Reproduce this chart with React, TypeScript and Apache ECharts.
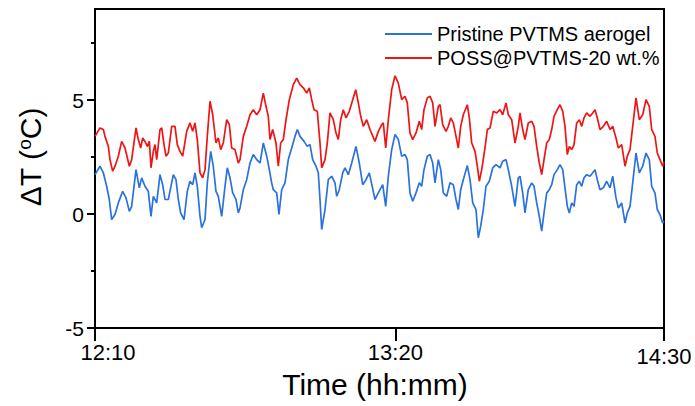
import React, { useEffect, useRef } from "react";
import * as echarts from "echarts";

// Time in minutes after 12:10
const redTime = [0, 1.23, 2.05, 2.46, 3.28, 3.69, 4.35, 4.92, 5.74, 6.56, 7.38, 8.45, 9.02, 10.09, 10.66, 11.24, 11.73, 12.3, 12.88, 13.37, 13.78, 14.35, 14.76, 15.18, 15.99, 16.41, 16.98, 17.47, 18.04, 18.87, 19.68, 20.25, 20.91, 21.58, 22.56, 23.37, 24.04, 24.6, 25.17, 25.84, 26.5, 27.07, 27.63, 28.3, 28.96, 29.77, 30.34, 30.93, 31.57, 32.4, 33.05, 33.63, 34.45, 35.26, 35.68, 36.49, 37.33, 38.14, 38.95, 39.79, 40.6, 41.41, 42.07, 42.64, 43.06, 43.72, 44.53, 45.1, 45.69, 46.33, 47.0, 47.81, 48.79, 49.63, 50.44, 51.25, 52.09, 52.73, 53.32, 53.89, 54.7, 55.36, 55.78, 56.59, 57.16, 57.82, 58.64, 59.3, 59.86, 60.45, 61.09, 61.76, 62.57, 63.41, 64.15, 64.79, 65.38, 66.02, 66.85, 67.66, 68.89, 69.71, 70.54, 70.94, 71.53, 72.17, 73.0, 73.82, 74.63, 75.46, 76.28, 76.84, 77.5, 78.17, 78.98, 79.8, 80.38, 80.95, 81.76, 82.43, 83.09, 83.66, 84.47, 84.89, 85.55, 86.36, 86.93, 87.52, 88.16, 88.83, 89.39, 89.98, 90.62, 91.61, 92.1, 92.69, 93.5, 94.07, 94.56, 95.15, 95.96, 96.53, 97.19, 98.0, 98.84, 99.65, 100.31, 101.13, 101.69, 102.53, 103.34, 104.15, 104.57, 105.23, 105.8, 106.61, 107.45, 108.02, 108.68, 109.32, 109.91, 110.48, 111.14, 111.78, 112.37, 112.94, 113.75, 114.41, 115.08, 115.64, 116.21, 116.7, 117.29, 117.86, 118.52, 119.16, 119.75, 120.32, 120.98, 121.8, 122.46, 123.03, 123.59, 124.26, 125.07, 125.9, 126.72, 127.38, 128.19, 128.76, 129.59, 130.41, 130.97, 131.64, 132.3, 133.11, 133.92, 134.76, 135.57, 136.38, 136.97, 137.78, 138.35, 139.01, 139.68, 140];
const redDT = [3.41, 3.78, 3.71, 3.41, 2.97, 2.39, 1.88, 2.1, 2.54, 3.19, 2.9, 2.1, 2.39, 3.78, 3.27, 2.9, 3.34, 3.19, 2.97, 3.19, 2.03, 2.75, 3.05, 2.39, 3.71, 3.78, 3.05, 2.54, 2.68, 3.85, 3.85, 3.05, 2.75, 2.54, 3.63, 4.0, 3.63, 4.0, 3.27, 1.81, 1.59, 1.95, 3.41, 4.95, 4.36, 3.12, 3.34, 2.83, 3.12, 4.14, 3.93, 2.9, 2.83, 2.24, 2.39, 3.41, 3.85, 4.36, 4.58, 4.36, 4.58, 5.31, 4.73, 4.29, 3.27, 3.71, 3.12, 2.1, 3.12, 3.27, 4.14, 5.02, 5.68, 5.97, 5.68, 5.54, 5.31, 5.54, 5.02, 4.58, 4.51, 3.12, 2.03, 2.39, 3.12, 4.44, 4.14, 3.56, 3.27, 4.14, 4.58, 4.22, 4.51, 5.02, 5.46, 4.88, 4.29, 3.85, 4.14, 3.71, 3.19, 3.63, 3.93, 4.0, 2.9, 4.14, 5.46, 6.07, 5.75, 5.02, 5.17, 4.88, 3.56, 3.27, 3.56, 4.07, 3.71, 4.58, 5.1, 5.17, 4.88, 3.85, 4.73, 4.8, 3.93, 3.63, 3.85, 4.22, 4.0, 3.41, 2.9, 3.85, 4.36, 4.8, 4.22, 3.12, 2.75, 2.1, 1.44, 1.95, 2.9, 3.71, 3.78, 4.51, 4.44, 4.58, 4.36, 4.88, 4.36, 4.14, 3.12, 3.85, 4.44, 3.71, 3.27, 4.0, 4.07, 3.85, 2.97, 2.24, 1.73, 2.39, 3.12, 3.27, 3.71, 4.29, 4.58, 4.8, 4.51, 3.85, 2.61, 2.97, 2.83, 3.05, 4.0, 4.14, 3.85, 4.22, 4.44, 4.29, 4.44, 4.58, 4.22, 3.71, 3.85, 4.07, 3.71, 3.85, 3.34, 2.9, 3.05, 2.1, 2.54, 2.83, 3.85, 5.1, 4.14, 4.36, 5.02, 4.73, 3.71, 3.41, 2.68, 2.39, 2.1, 2.3];

const blueTime = [0, 1.23, 2.05, 2.87, 3.52, 4.1, 4.92, 5.74, 6.81, 7.63, 8.45, 9.02, 10.09, 10.9, 11.48, 12.3, 13.12, 13.78, 14.35, 15.18, 15.99, 16.65, 17.22, 18.04, 19.27, 19.93, 20.5, 21.08, 21.9, 22.71, 23.37, 24.04, 24.6, 25.17, 25.84, 26.25, 27.07, 27.63, 28.47, 29.1, 29.77, 30.34, 31.17, 31.99, 32.55, 33.22, 33.88, 34.69, 35.26, 35.68, 36.49, 37.33, 38.14, 38.95, 39.79, 40.6, 41.41, 42.25, 42.89, 43.47, 43.87, 44.71, 45.27, 45.94, 46.75, 47.56, 48.4, 49.21, 49.78, 50.44, 51.43, 52.24, 52.9, 53.56, 54.38, 54.94, 55.36, 55.78, 56.59, 57.4, 58.24, 59.05, 59.47, 60.11, 60.95, 61.51, 62.33, 63.16, 64.22, 65.03, 65.87, 66.68, 67.49, 68.89, 69.71, 70.79, 71.53, 72.17, 73.0, 73.82, 74.63, 75.46, 76.28, 76.84, 77.5, 78.17, 78.98, 79.8, 80.38, 80.95, 81.76, 82.43, 83.09, 83.66, 84.47, 85.06, 85.7, 86.53, 87.35, 88.16, 88.83, 89.39, 89.98, 90.62, 91.61, 92.27, 92.94, 93.74, 94.31, 94.9, 95.54, 96.2, 97.02, 97.86, 98.67, 99.65, 100.31, 101.13, 101.69, 102.53, 103.34, 104.15, 104.57, 105.23, 105.8, 106.61, 107.45, 108.02, 108.68, 109.32, 109.91, 110.48, 111.14, 111.78, 112.37, 112.94, 113.75, 114.41, 115.08, 115.64, 116.21, 116.7, 117.29, 117.86, 118.52, 119.16, 119.75, 120.32, 120.98, 121.8, 122.46, 123.03, 123.59, 124.26, 125.07, 125.9, 126.72, 127.38, 128.19, 128.76, 129.59, 130.41, 130.97, 131.64, 132.3, 133.11, 133.92, 134.76, 135.57, 136.38, 136.97, 137.78, 138.35, 139.01, 139.68, 140];
const blueDT = [1.73, 2.1, 1.81, 1.22, 0.64, -0.24, -0.02, 0.49, 1.0, 0.71, 0.12, 0.34, 1.95, 1.15, 1.59, 1.22, 1.0, -0.1, 0.78, 0.49, 1.73, 1.29, 0.64, 0.64, 1.73, 1.51, 0.64, 0.05, -0.24, 1.0, 1.44, 1.29, 1.81, 1.22, -0.1, -0.6, -0.24, 1.37, 2.75, 2.1, 1.0, 0.78, -0.1, 1.22, 2.03, 1.59, 0.93, 0.64, 0.05, 0.27, 1.07, 1.51, 2.24, 2.61, 2.39, 2.24, 3.12, 2.54, 1.95, 1.37, 1.07, 0.93, -0.02, 1.07, 1.37, 2.39, 2.9, 3.41, 3.71, 3.41, 3.19, 2.97, 3.05, 2.39, 2.1, 1.81, 0.64, -0.68, 0.2, 1.51, 1.66, 1.37, 0.78, 1.07, 1.81, 2.03, 1.73, 2.24, 2.97, 2.24, 1.29, 1.51, 1.81, 0.64, 0.93, 1.29, 0.34, 1.66, 2.83, 3.49, 3.27, 2.54, 2.61, 2.39, 0.93, 0.56, 0.93, 1.37, 1.22, 1.95, 2.54, 2.61, 2.24, 1.37, 2.39, 1.95, 0.93, 0.78, 1.37, 1.29, 0.64, 0.2, 1.07, 1.51, 2.13, 1.51, 0.49, 0.2, -1.04, -0.53, 0.2, 1.22, 1.44, 2.03, 2.17, 2.03, 2.32, 2.39, 1.95, 1.22, 0.34, 1.59, 1.66, 0.93, 0.05, 1.07, 1.37, 1.22, 0.49, -0.1, -0.75, 0.05, 0.93, 1.07, 1.29, 1.73, 1.95, 2.17, 1.95, 1.15, 0.34, 0.05, 0.49, 0.34, 1.29, 1.44, 1.22, 1.59, 1.73, 1.66, 1.81, 1.95, 1.51, 1.07, 1.15, 1.44, 1.15, 1.66, 0.71, 0.27, 0.49, -0.39, 0.05, 0.34, 1.37, 2.68, 1.81, 2.1, 2.68, 2.39, 1.22, 0.93, 0.2, -0.02, -0.39, -0.3];

const xTickValues = [0, 73.9, 140];
const xTickLabels = ["12:10", "13:20", "14:30"];
const yMajorTicks = [-5, 0, 5];
const seriesNames = ["Pristine PVTMS aerogel", "POSS@PVTMS-20 wt.%"];

const FONT = "'Liberation Sans', Arial, Helvetica, sans-serif";
const BLUE = "#2a72dc";
const RED = "#ee1515";

export default function App() {
  const ref = useRef<HTMLDivElement>(null);
  useEffect(() => {
    if (!ref.current) return;
    const chart = echarts.init(ref.current, null, { renderer: "svg" });
    chart.setOption({
      animation: false,
      backgroundColor: "#ffffff",
      textStyle: { fontFamily: FONT },
      grid: { left: 95, right: 31, top: 9, bottom: 78, containLabel: false, show: true, borderColor: "#000", borderWidth: 2, backgroundColor: "transparent" },
      legend: {
        data: seriesNames,
        orient: "vertical",
        left: 385,
        top: 24,
        padding: 0,
        icon: "rect",
        itemWidth: 47,
        itemHeight: 2,
        itemGap: 4,
        textStyle: { fontSize: 20, lineHeight: 20, color: "#000", fontFamily: FONT },
      },
      xAxis: {
        type: "value",
        min: 0,
        max: 140,
        axisLine: { show: false, onZero: false },
        splitLine: { show: false },
        axisTick: { show: true, customValues: xTickValues, length: 13, lineStyle: { color: "#000", width: 2 } },
        axisLabel: {
          customValues: xTickValues,
          margin: 13,
          fontSize: 22,
          color: "#000",
          fontFamily: FONT,
          formatter: (v: number) => {
            const i = xTickValues.findIndex((t) => Math.abs(t - v) < 0.01);
            if (i < 0) return "";
            if (i === 0) return "{first|" + xTickLabels[i] + "}";
            if (i === xTickLabels.length - 1) return "{last|" + xTickLabels[i] + "}";
            return xTickLabels[i];
          },
          rich: {
            first: { fontSize: 22, fontFamily: FONT, color: "#000", padding: [0, 0, 0, 26] },
            last: { fontSize: 22, fontFamily: FONT, color: "#000", padding: [4, 0, 0, 0] },
          },
        },
      },
      yAxis: {
        type: "value",
        min: -5,
        max: 9,
        interval: 5,
        position: "left",
        axisLine: { show: true, onZero: false, lineStyle: { color: "#000", width: 2 } },
        splitLine: { show: false },
        axisTick: { show: true, inside: false, customValues: yMajorTicks, length: 8, lineStyle: { color: "#000", width: 2 } },
        minorTick: { show: true, splitNumber: 2, length: 4, lineStyle: { color: "#000", width: 2 } },
        axisLabel: { customValues: yMajorTicks, margin: 11, fontSize: 21, color: "#000", fontFamily: FONT },
      },
      series: [
        {
          name: seriesNames[0],
          type: "line",
          showSymbol: false,
          symbol: "none",
          data: blueTime.map((t, i) => [t, blueDT[i]]),
          lineStyle: { color: BLUE, width: 1.7 },
          itemStyle: { color: BLUE },
          z: 3,
        },
        {
          name: seriesNames[1],
          type: "line",
          showSymbol: false,
          symbol: "none",
          data: redTime.map((t, i) => [t, redDT[i]]),
          lineStyle: { color: RED, width: 1.7 },
          itemStyle: { color: RED },
          z: 2,
        },
      ],
      graphic: [
        {
          type: "text",
          x: 30,
          y: 157,
          rotation: Math.PI / 2,
          style: {
            text: "{a|ΔT (}{s|o}{a|C)}",
            rich: {
              a: { fontSize: 30, fontFamily: FONT, fill: "#000" },
              s: { fontSize: 19, fontFamily: FONT, fill: "#000", padding: [0, 0, 12, 0] },
            },
            align: "center",
            verticalAlign: "middle",
          },
        },
        {
          type: "text",
          x: 375,
          y: 384,
          style: {
            text: "Time (hh:mm)",
            fontSize: 30,
            fontFamily: FONT,
            fill: "#000",
            align: "center",
            verticalAlign: "middle",
          },
        },
      ],
    });
    return () => chart.dispose();
  }, []);
  return <div ref={ref} style={{ position: "absolute", left: 0, top: 0, width: 695, height: 406 }} />;
}
